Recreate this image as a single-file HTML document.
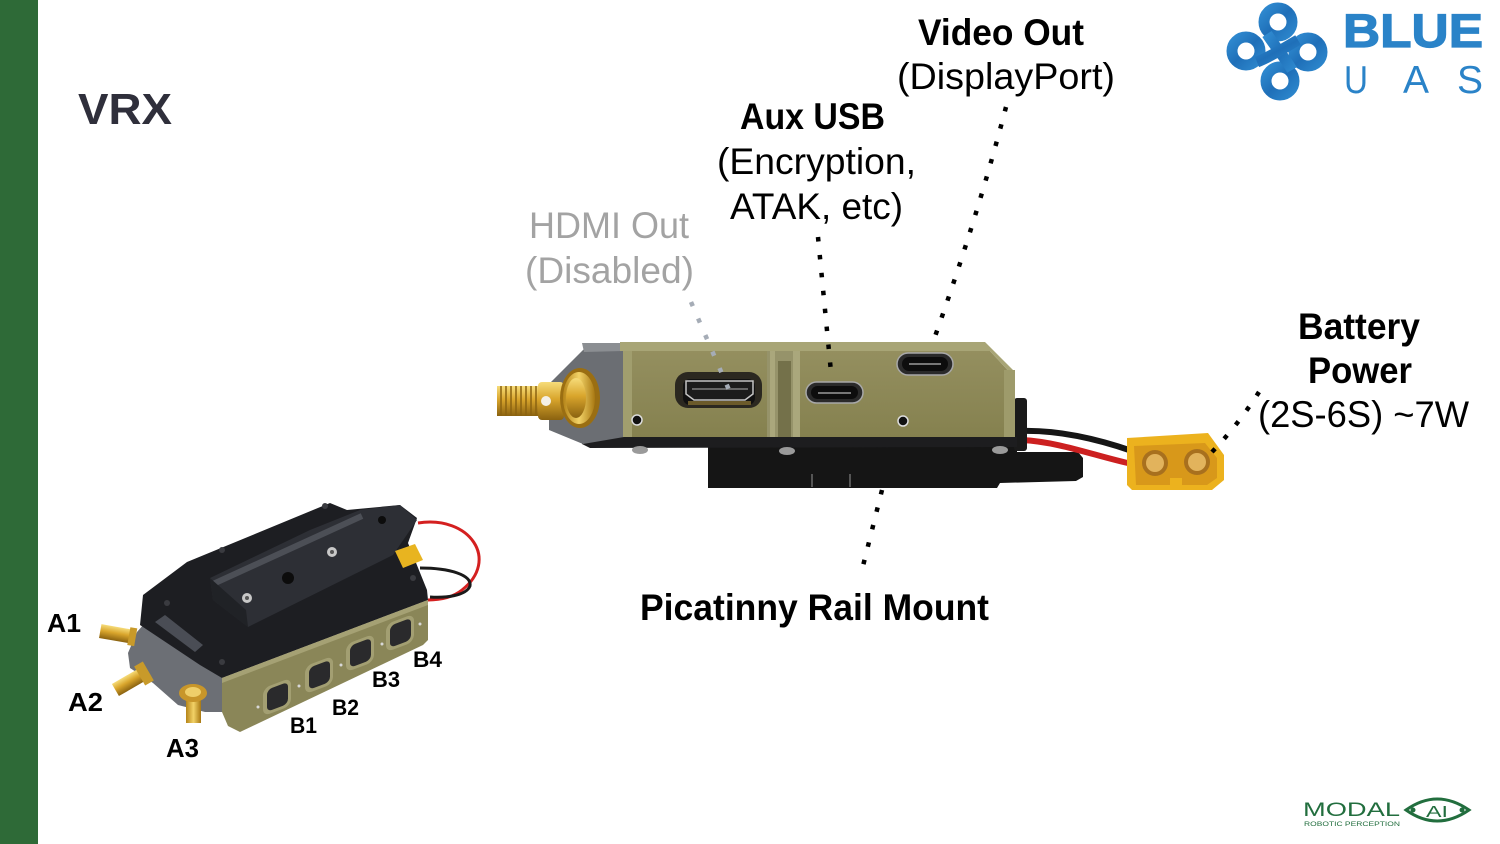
<!DOCTYPE html>
<html><head><meta charset="utf-8">
<style>
html,body{margin:0;padding:0;background:#fff;}
body{width:1500px;height:844px;overflow:hidden;position:relative;}
svg{display:block;}
text{font-family:"Liberation Sans",Arial,sans-serif;}
</style></head><body>
<svg width="1500" height="844" viewBox="0 0 1500 844" xmlns="http://www.w3.org/2000/svg">
<defs>
<linearGradient id="gold" x1="0" y1="0" x2="0" y2="1">
<stop offset="0" stop-color="#f6dc7a"/><stop offset="0.45" stop-color="#d9a52c"/><stop offset="1" stop-color="#8a6210"/>
</linearGradient>
<linearGradient id="goldh" x1="0" y1="0" x2="1" y2="0">
<stop offset="0" stop-color="#b58418"/><stop offset="0.5" stop-color="#f2d267"/><stop offset="1" stop-color="#a87812"/>
</linearGradient>
<linearGradient id="olive" x1="0" y1="0" x2="0" y2="1">
<stop offset="0" stop-color="#948f5f"/><stop offset="1" stop-color="#85814f"/>
</linearGradient>
<linearGradient id="blueg" x1="0" y1="0" x2="1" y2="1">
<stop offset="0" stop-color="#2f8ad0"/><stop offset="0.5" stop-color="#1f6fb8"/><stop offset="1" stop-color="#2c86cc"/>
</linearGradient>
</defs>

<!-- green side bar -->
<rect x="0" y="0" width="38" height="844" fill="#2e6a37"/>

<!-- title -->
<text x="78" y="124" font-size="44" font-weight="bold" fill="#2f2f3b" textLength="94" lengthAdjust="spacingAndGlyphs">VRX</text>

<!-- BLUE UAS logo -->
<g fill="none" stroke="url(#blueg)" stroke-width="11">
<circle cx="1278" cy="22" r="14"/>
<circle cx="1246" cy="51" r="14"/>
<circle cx="1308" cy="52" r="14"/>
<circle cx="1280" cy="81" r="14"/>
<path d="M1267,34 C1276,48 1284,56 1292,70"/>
<path d="M1257,62 C1272,56 1284,48 1298,40"/>
</g>
<text x="1343" y="47" font-size="47" font-weight="bold" fill="#2a83c8" stroke="#2a83c8" stroke-width="1.2" textLength="140" lengthAdjust="spacingAndGlyphs">BLUE</text>
<text x="1344" y="93" font-size="39" fill="#2a83c8" textLength="24" lengthAdjust="spacingAndGlyphs">U</text>
<text x="1403" y="93" font-size="39" fill="#2a83c8" textLength="26" lengthAdjust="spacingAndGlyphs">A</text>
<text x="1457" y="93" font-size="39" fill="#2a83c8" textLength="26" lengthAdjust="spacingAndGlyphs">S</text>

<!-- Labels -->
<text x="918" y="45" font-size="37" font-weight="bold" fill="#000" textLength="166" lengthAdjust="spacingAndGlyphs">Video Out</text>
<text x="897" y="89" font-size="37" fill="#000" textLength="218" lengthAdjust="spacingAndGlyphs">(DisplayPort)</text>
<text x="740" y="129" font-size="37" font-weight="bold" fill="#000" textLength="145" lengthAdjust="spacingAndGlyphs">Aux USB</text>
<text x="717" y="174" font-size="37" fill="#000" textLength="199" lengthAdjust="spacingAndGlyphs">(Encryption,</text>
<text x="730" y="219" font-size="37" fill="#000" textLength="173" lengthAdjust="spacingAndGlyphs">ATAK, etc)</text>
<text x="529" y="238" font-size="37" fill="#a3a3a3" textLength="160" lengthAdjust="spacingAndGlyphs">HDMI Out</text>
<text x="525" y="283" font-size="37" fill="#a3a3a3" textLength="169" lengthAdjust="spacingAndGlyphs">(Disabled)</text>
<text x="1298" y="339" font-size="37" font-weight="bold" fill="#000" textLength="122" lengthAdjust="spacingAndGlyphs">Battery</text>
<text x="1308" y="383" font-size="37" font-weight="bold" fill="#000" textLength="104" lengthAdjust="spacingAndGlyphs">Power</text>
<text x="1258" y="427" font-size="37" fill="#000" textLength="211" lengthAdjust="spacingAndGlyphs">(2S-6S) ~7W</text>
<text x="640" y="620" font-size="37" font-weight="bold" fill="#000" textLength="349" lengthAdjust="spacingAndGlyphs">Picatinny Rail Mount</text>

<!-- ===== Main device (side view) ===== -->
<polygon points="708,447 1017,447 1017,452 1078,452 1083,458 1083,477 1076,481 1000,483 997,488 708,488" fill="#151515"/>
<line x1="812" y1="474" x2="812" y2="487" stroke="#555" stroke-width="2"/>
<line x1="850" y1="474" x2="850" y2="487" stroke="#555" stroke-width="2"/>
<path d="M1022,440 C1060,442 1095,456 1132,464" fill="none" stroke="#cc2020" stroke-width="6"/>
<path d="M1022,431 C1060,430 1100,440 1132,451" fill="none" stroke="#161616" stroke-width="6"/>
<polygon points="1127,438 1208,433 1224,455 1224,480 1212,490 1132,490 1127,485" fill="#ecb21e"/>
<polygon points="1134,446 1205,443 1217,458 1217,478 1207,485 1136,485" fill="#d8981a"/>
<rect x="1170" y="478" width="12" height="10" fill="#ecb21e"/>
<circle cx="1155" cy="463" r="13" fill="#a8701e"/>
<circle cx="1155" cy="463" r="9" fill="#e2b35c"/>
<circle cx="1197" cy="462" r="13" fill="#a8701e"/>
<circle cx="1197" cy="462" r="9" fill="#e2b35c"/>
<rect x="1014" y="398" width="13" height="53" rx="3" fill="#1a1a1a"/>
<polygon points="582,437 1017,437 1017,447 590,448 582,444" fill="#1d1d1f"/>
<ellipse cx="640" cy="450" rx="8" ry="4" fill="#9a9a9a"/>
<ellipse cx="787" cy="451" rx="8" ry="4" fill="#9a9a9a"/>
<ellipse cx="1000" cy="450" rx="8" ry="4" fill="#9a9a9a"/>
<polygon points="584,349 624,349 624,437 583,444 549,430 549,384" fill="#6b6e73"/>
<polygon points="582,343 623,343 623,351 584,352" fill="#8b8e92"/>
<polygon points="623,351 990,351 1015,378 1015,437 623,437" fill="url(#olive)"/>
<polygon points="620,342 985,342 1015,372 1015,378 990,351 620,351" fill="#a8a576"/>
<rect x="623" y="351" width="9" height="86" fill="#a19e6e"/>
<rect x="1004" y="370" width="11" height="67" fill="#9e9b6b"/>
<rect x="767" y="351" width="33" height="86" fill="#96936a"/>
<rect x="770" y="351" width="5" height="86" fill="#aaa77c"/>
<rect x="778" y="361" width="13" height="76" fill="#74714a"/>
<rect x="793" y="351" width="7" height="86" fill="#aaa77c"/>
<rect x="675" y="372" width="87" height="36" rx="13" fill="#2b2820"/>
<rect x="683" y="379" width="72" height="26" rx="7" fill="#111"/>
<polygon points="686,381 753,381 753,394 745,400 694,400 686,394" fill="#1c1c1c" stroke="#c4c4c4" stroke-width="1.5"/>
<line x1="692" y1="389" x2="748" y2="389" stroke="#666" stroke-width="2"/>
<rect x="688" y="401" width="63" height="4" fill="#6b5a2a"/>
<rect x="806" y="382" width="57" height="21" rx="10.5" fill="#2a2a2a" stroke="#a8a8a8" stroke-width="1.5"/>
<rect x="811" y="386" width="47" height="13" rx="6.5" fill="#0d0d0d"/>
<line x1="818" y1="393" x2="851" y2="393" stroke="#777" stroke-width="2"/>
<rect x="897" y="353" width="56" height="22" rx="11" fill="#2a2a2a" stroke="#a8a8a8" stroke-width="1.5"/>
<rect x="902" y="357" width="46" height="14" rx="7" fill="#0d0d0d"/>
<line x1="909" y1="364" x2="941" y2="364" stroke="#777" stroke-width="2"/>
<circle cx="637" cy="420" r="5" fill="#111" stroke="#ddd" stroke-width="1.5"/>
<circle cx="903" cy="421" r="5" fill="#111" stroke="#ddd" stroke-width="1.5"/>
<rect x="497" y="386" width="44" height="30" fill="url(#gold)"/>
<g stroke="#8a6210" stroke-width="1.5">
<line x1="501" y1="386" x2="501" y2="416"/><line x1="506" y1="386" x2="506" y2="416"/>
<line x1="511" y1="386" x2="511" y2="416"/><line x1="516" y1="386" x2="516" y2="416"/>
<line x1="521" y1="386" x2="521" y2="416"/><line x1="526" y1="386" x2="526" y2="416"/>
<line x1="531" y1="386" x2="531" y2="416"/><line x1="536" y1="386" x2="536" y2="416"/>
</g>
<rect x="538" y="382" width="26" height="38" rx="4" fill="url(#gold)"/>
<circle cx="546" cy="401" r="5" fill="#f4f0e6"/>
<ellipse cx="580" cy="398" rx="20" ry="30" fill="#9a6e12"/>
<ellipse cx="579" cy="398" rx="16" ry="26" fill="url(#goldh)"/>
<ellipse cx="576" cy="398" rx="10" ry="20" fill="url(#gold)"/>

<!-- dotted connectors -->
<g fill="none" stroke-width="4.5" stroke-dasharray="4.5,13.5">
<path d="M691,302 L729,390" stroke="#a5acb6"/>
<path d="M818,237 L831,372" stroke="#000"/>
<path d="M1006,107 Q976,222 933,342" stroke="#000"/>
<path d="M882,490 L863,566" stroke="#000"/>
<path d="M1212,452 Q1238,425 1259,392" stroke="#000"/>
</g>

<!-- ===== Small device (iso view) ===== -->
<path d="M418,523 C470,515 500,560 462,590 C452,598 440,600 428,600" fill="none" stroke="#d42020" stroke-width="3"/>
<path d="M420,568 C450,568 472,575 470,586 C466,596 445,598 430,597" fill="none" stroke="#1a1a1a" stroke-width="3"/>
<polygon points="128,653 137,632 152,615 222,665 222,712 205,712 178,705 153,683 130,668" fill="#6c6f75"/>
<polygon points="140,625 143,595 187,562 330,503 347,510 400,505 417,518 408,543 427,590 428,600 222,678 200,665" fill="#1d1e22"/>
<polygon points="155,622 165,615 203,645 195,652" fill="#4a4d55"/>
<polygon points="222,678 428,600 428,640 423,645 240,732 228,726 222,712" fill="#8a8658"/>
<polygon points="222,678 428,600 428,605 222,683" fill="#a5a174"/>
<g transform="translate(277,697) skewY(-21)"><rect x="-14" y="-14" width="28" height="28" rx="7" fill="#a39f72"/><rect x="-10" y="-11" width="21" height="22" rx="5" fill="#2a2a2c"/></g>
<g transform="translate(319,675) skewY(-21)"><rect x="-14" y="-14" width="28" height="28" rx="7" fill="#a39f72"/><rect x="-10" y="-11" width="21" height="22" rx="5" fill="#2a2a2c"/></g>
<g transform="translate(360,653) skewY(-21)"><rect x="-14" y="-14" width="28" height="28" rx="7" fill="#a39f72"/><rect x="-10" y="-11" width="21" height="22" rx="5" fill="#2a2a2c"/></g>
<g transform="translate(400,633) skewY(-21)"><rect x="-14" y="-14" width="28" height="28" rx="7" fill="#a39f72"/><rect x="-10" y="-11" width="21" height="22" rx="5" fill="#2a2a2c"/></g>
<g fill="#d8d8d8"><circle cx="258" cy="707" r="1.5"/><circle cx="299" cy="686" r="1.5"/><circle cx="341" cy="665" r="1.5"/><circle cx="382" cy="644" r="1.5"/><circle cx="420" cy="624" r="1.5"/></g>
<polygon points="210,578 310,530 360,510 400,505 417,520 393,555 248,627 213,600" fill="#2d2f35"/>
<line x1="213" y1="584" x2="362" y2="516" stroke="#4c4f56" stroke-width="6"/>
<polygon points="210,578 213,600 248,627 246,610" fill="#202226"/>
<circle cx="247" cy="598" r="5" fill="#c8c8c8"/><circle cx="247" cy="598" r="2" fill="#555"/>
<circle cx="332" cy="552" r="5" fill="#c8c8c8"/><circle cx="332" cy="552" r="2" fill="#555"/>
<circle cx="288" cy="578" r="6" fill="#0c0c0c"/>
<circle cx="382" cy="520" r="4" fill="#0c0c0c"/>
<g fill="#3a3b40"><circle cx="325" cy="506" r="3"/><circle cx="222" cy="550" r="3"/><circle cx="413" cy="578" r="3"/><circle cx="167" cy="603" r="3"/><circle cx="222" cy="662" r="3"/></g>
<polygon points="395,551 415,544 423,560 403,568" fill="#e8b420"/>
<g transform="translate(117,634) rotate(10)"><rect x="-17" y="-7" width="32" height="14" fill="url(#gold)"/><rect x="12" y="-9" width="7" height="18" fill="#c89a2a"/></g>
<g transform="translate(131,681) rotate(-30)"><rect x="-18" y="-7" width="30" height="14" fill="url(#gold)"/><rect x="10" y="-11" width="10" height="22" fill="#c89a2a"/></g>
<rect x="186" y="695" width="15" height="28" fill="url(#goldh)"/>
<ellipse cx="193" cy="693" rx="14" ry="9" fill="#c8962a"/>
<ellipse cx="193" cy="692" rx="8" ry="5" fill="#efcf6a"/>

<text x="47" y="632" font-size="26" font-weight="bold" fill="#000" textLength="34" lengthAdjust="spacingAndGlyphs">A1</text>
<text x="68" y="711" font-size="26" font-weight="bold" fill="#000" textLength="35" lengthAdjust="spacingAndGlyphs">A2</text>
<text x="166" y="757" font-size="26" font-weight="bold" fill="#000" textLength="33" lengthAdjust="spacingAndGlyphs">A3</text>
<text x="290" y="733" font-size="22" font-weight="bold" fill="#000" textLength="27" lengthAdjust="spacingAndGlyphs">B1</text>
<text x="332" y="715" font-size="22" font-weight="bold" fill="#000" textLength="27" lengthAdjust="spacingAndGlyphs">B2</text>
<text x="372" y="687" font-size="22" font-weight="bold" fill="#000" textLength="28" lengthAdjust="spacingAndGlyphs">B3</text>
<text x="413" y="667" font-size="22" font-weight="bold" fill="#000" textLength="29" lengthAdjust="spacingAndGlyphs">B4</text>

<!-- ModalAI logo -->
<text x="1303" y="816" font-size="19" fill="#226e3e" textLength="97" lengthAdjust="spacingAndGlyphs">MODAL</text>
<text x="1304" y="826" font-size="6" fill="#226e3e" textLength="96" lengthAdjust="spacingAndGlyphs">ROBOTIC PERCEPTION</text>
<path d="M1406,810 Q1437,788 1469,810 Q1437,832 1406,810 Z" fill="none" stroke="#226e3e" stroke-width="3"/>
<circle cx="1413" cy="810" r="2.5" fill="#226e3e"/>
<circle cx="1462" cy="810" r="2.5" fill="#226e3e"/>
<text x="1426" y="817" font-size="16" fill="#226e3e" textLength="22" lengthAdjust="spacingAndGlyphs">AI</text>
</svg>
</body></html>
